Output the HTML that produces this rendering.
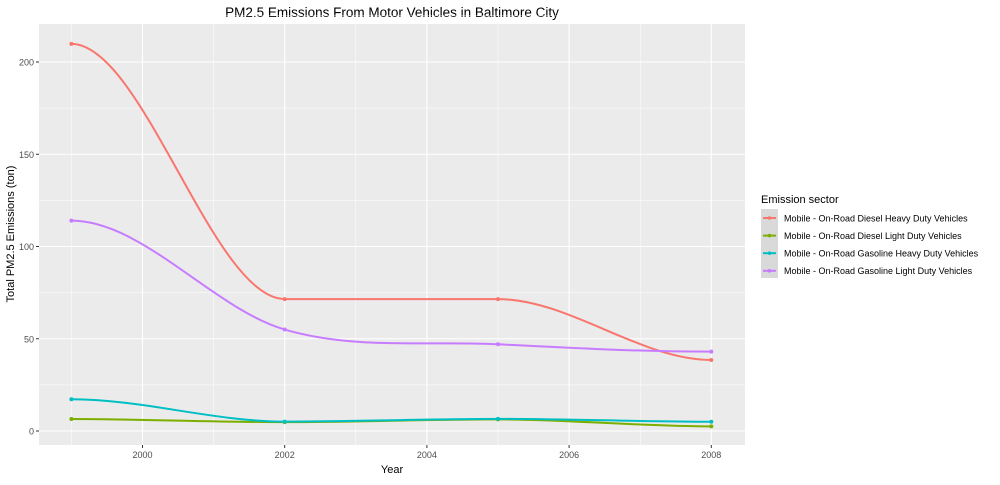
<!DOCTYPE html>
<html><head><meta charset="utf-8"><style>
body{margin:0;background:#fff;font-family:"Liberation Sans",Arial,sans-serif}
svg text{font-family:"Liberation Sans",Arial,sans-serif}
</style></head><body>
<svg id="chart" width="1000" height="480" xmlns="http://www.w3.org/2000/svg">
<text x="392" y="17" text-anchor="middle" font-size="13.5" fill="#000">PM2.5 Emissions From Motor Vehicles in Baltimore City</text>
<rect x="39" y="24" width="706" height="421" fill="#ebebeb"/>
<g id="grid"></g><g id="axes"></g><g id="series"></g>
<text x="392" y="473" text-anchor="middle" font-size="11">Year</text>
<text transform="translate(14,234) rotate(-90)" text-anchor="middle" font-size="11">Total PM2.5 Emissions (ton)</text>
<g id="legend">
<text x="761" y="203" font-size="11">Emission sector</text>
<rect x="761" y="209" width="17" height="69" fill="#d9d9d9"/>
</g>
</svg>
<script>
const years=[1999,2002,2005,2008];
const seriesNames=["Mobile - On-Road Diesel Heavy Duty Vehicles","Mobile - On-Road Diesel Light Duty Vehicles","Mobile - On-Road Gasoline Heavy Duty Vehicles","Mobile - On-Road Gasoline Light Duty Vehicles"];
const dieselHeavy=[209.8,71.5,71.5,38.5];
const dieselLight=[6.5,4.8,6.3,2.5];
const gasolineHeavy=[17.2,5.1,6.6,5.0];
const gasolineLight=[114,55,47,43];
const colors=["#f8766d","#7cae00","#00bfc4","#c77cff"];
const yTicks=[0,50,100,150,200];
const xTicks=[2000,2002,2004,2006,2008];
const NS="http://www.w3.org/2000/svg";
const sx=v=>142.5+(v-2000)*71.1;
const sy=v=>431-v*1.845;
function mk(t,a,p){const e=document.createElementNS(NS,t);for(const k in a)e.setAttribute(k,a[k]);p.appendChild(e);return e;}
const grid=document.getElementById('grid'),axes=document.getElementById('axes');
[25,75,125,175,225].forEach(m=>{const l=mk('line',{x1:39,x2:745,y1:sy(m),y2:sy(m),stroke:'#fff','stroke-width':0.5},grid);});
for(let i=0;i<xTicks.length;i++){const m=xTicks[i]-1;const l=mk('line',{y1:24,y2:445,x1:sx(m),x2:sx(m),stroke:'#fff','stroke-width':0.5},grid);}
yTicks.forEach(v=>{const l=mk('line',{x1:39,x2:745,y1:sy(v),y2:sy(v),stroke:'#fff','stroke-width':1.1},grid);
const t=mk('line',{x1:36,x2:39,y1:sy(v),y2:sy(v),stroke:'#333'},axes);
const tx=mk('text',{x:34,y:sy(v)+3.5,'text-anchor':'end','font-size':9,fill:'#4d4d4d'},axes);tx.textContent=v;});
xTicks.forEach(v=>{const l=mk('line',{y1:24,y2:445,x1:sx(v),x2:sx(v),stroke:'#fff','stroke-width':1.1},grid);
const t=mk('line',{y1:445,y2:448,x1:sx(v),x2:sx(v),stroke:'#333'},axes);
const tx=mk('text',{x:sx(v),y:458,'text-anchor':'middle','font-size':9,fill:'#4d4d4d'},axes);tx.textContent=v;});
function smooth(xs,ys){const n=xs.length,d=[],m=[];for(let i=0;i<n-1;i++)d.push((ys[i+1]-ys[i])/(xs[i+1]-xs[i]));
m[0]=0;m[n-1]=0;for(let i=1;i<n-1;i++)m[i]=(d[i-1]*d[i]<=0)?0:(d[i-1]+d[i])/2;
for(let i=0;i<n-1;i++){if(d[i]===0){m[i]=0;m[i+1]=0;}}
let p='M'+xs[0]+','+ys[0];for(let i=0;i<n-1;i++){const h=(xs[i+1]-xs[i])/3;p+=' C'+(xs[i]+h)+','+(ys[i]+m[i]*h)+' '+(xs[i+1]-h)+','+(ys[i+1]-m[i+1]*h)+' '+xs[i+1]+','+ys[i+1];}return p;}
const all=[dieselHeavy,dieselLight,gasolineHeavy,gasolineLight];
const sg=document.getElementById('series');
all.forEach((vals,k)=>{const xs=years.map(sx),ys=vals.map(sy);
const p=mk('path',{d:smooth(xs,ys),fill:'none',stroke:colors[k],'stroke-width':2},sg);

vals.forEach((v,i)=>{const c=mk('circle',{cx:sx(years[i]),cy:sy(v),r:2,fill:colors[k]},sg);
});});
const lg=document.getElementById('legend');
seriesNames.forEach((n,k)=>{const y=218+k*17.6;
const l=mk('line',{x1:763,x2:776,y1:y,y2:y,stroke:colors[k],'stroke-width':2},lg);
const c=mk('circle',{cx:769.5,cy:y,r:1.8,fill:colors[k]},lg);
const t=mk('text',{x:784,y:y+3.3,'font-size':9},lg);t.textContent=n;});
</script>
</body></html>
